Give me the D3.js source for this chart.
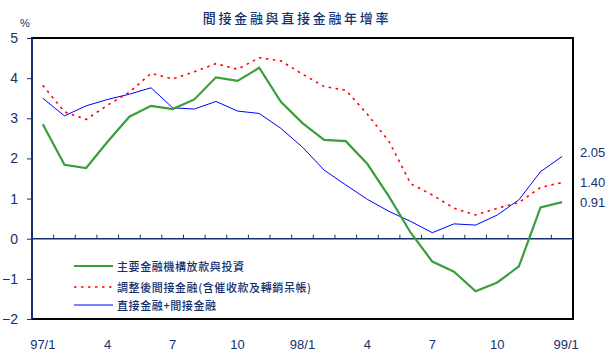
<!DOCTYPE html>
<html><head><meta charset="utf-8">
<script src="https://cdn.jsdelivr.net/npm/d3@7/dist/d3.min.js"></script>
<style>body{margin:0;background:#fff}svg{display:block}</style>
</head><body>
<svg id="c" width="614" height="356"></svg>
<script>
const title = "間接金融與直接金融年增率";
const months = ["97/1","97/2","97/3","97/4","97/5","97/6","97/7","97/8","97/9","97/10","97/11","97/12",
  "98/1","98/2","98/3","98/4","98/5","98/6","98/7","98/8","98/9","98/10","98/11","98/12","99/1"];
const tickLabels = ["97/1","4","7","10","98/1","4","7","10","99/1"];
const yTicks = [5,4,3,2,1,0,-1,-2];
const seriesNames = ["主要金融機構放款與投資","調整後間接金融(含催收款及轉銷呆帳)","直接金融+間接金融"];
const green = [2.85,1.84,1.76,2.42,3.04,3.31,3.23,3.47,4.02,3.93,4.26,3.41,2.88,2.46,2.43,1.86,1.05,0.15,-0.57,-0.82,-1.31,-1.09,-0.69,0.78,0.91];
const red   = [3.82,3.16,2.97,3.33,3.65,4.12,3.98,4.16,4.36,4.22,4.51,4.43,4.10,3.79,3.70,3.10,2.42,1.37,1.09,0.76,0.59,0.76,0.90,1.28,1.40];
const blue  = [3.50,3.06,3.31,3.47,3.60,3.76,3.26,3.23,3.42,3.18,3.12,2.75,2.28,1.71,1.34,0.98,0.68,0.43,0.15,0.37,0.34,0.59,0.97,1.67,2.05];
const endLabels = ["2.05","1.40","0.91"];

const navy = "#14306e";
const greenC = "#3a9e3a";
const svg = d3.select("#c");
const L = 32, R = 573, T = 38, B = 319;
const x = d3.scalePoint().domain(d3.range(months.length)).range([L, R]).padding(0.5);
const y = d3.scaleLinear().domain([-2, 5]).range([B, T]);
const step = x.step();

// title
svg.append("text").attr("x", 297).attr("y", 23).attr("text-anchor", "middle")
  .attr("font-family", "Noto Sans CJK TC").attr("font-size", 13).attr("font-weight", 500).attr("letter-spacing", 2.7)
  .attr("fill", navy).text(title);

// frame
svg.append("rect").attr("x", L).attr("y", T).attr("width", R - L).attr("height", B - T)
  .attr("fill", "none").attr("stroke", "#000").attr("stroke-width", 2);
svg.append("line").attr("x1", L).attr("x2", L).attr("y1", T).attr("y2", B)
  .attr("stroke", navy).attr("stroke-width", 2);

// y axis
const yAxis = d3.axisLeft(y).tickValues(yTicks).tickSize(5).tickFormat(d3.format("d"));
const ya = svg.append("g").attr("transform", `translate(${L},0)`).call(yAxis);
ya.select(".domain").remove();
ya.selectAll("line").attr("stroke", navy);
ya.selectAll("text").attr("x", -14).attr("font-family", "Liberation Sans").attr("font-size", 14).attr("fill", navy);
svg.append("text").attr("x", 20).attr("y", 27).attr("font-family", "Liberation Sans").attr("font-size", 11)
  .attr("fill", navy).text("%");

// zero line with ticks at band boundaries
svg.append("line").attr("x1", L).attr("x2", R).attr("y1", y(0)).attr("y2", y(0))
  .attr("stroke", navy).attr("stroke-width", 1.5);
svg.append("g").selectAll("line").data(d3.range(1, months.length)).join("line")
  .attr("x1", d => x(d) - step / 2).attr("x2", d => x(d) - step / 2)
  .attr("y1", y(0)).attr("y2", y(0) - 4).attr("stroke", navy).attr("stroke-width", 1);

// x labels
const xt = months.map((m, i) => i).filter(i => i % 3 === 0);
svg.append("g").selectAll("text").data(xt).join("text")
  .attr("x", (d, j) => x(d) + (j === xt.length - 1 ? 4 : 0)).attr("y", 349).attr("text-anchor", "middle")
  .attr("font-family", "Liberation Sans").attr("font-size", 13).attr("fill", navy)
  .text((d, j) => tickLabels[j]);

// lines
const line = d3.line().x((d, i) => x(i)).y(d => y(d));
svg.append("path").datum(blue).attr("d", line).attr("fill", "none").attr("stroke", "#0000ff").attr("stroke-width", 1);
svg.append("path").datum(red).attr("d", line).attr("fill", "none").attr("stroke", "#ff0000").attr("stroke-width", 1.6).attr("stroke-dasharray", "2.5,4.5");
svg.append("path").datum(green).attr("d", line).attr("fill", "none").attr("stroke", greenC).attr("stroke-width", 2.2);

// end labels
const endY = [157, 187, 207];
svg.append("g").selectAll("text").data(endLabels).join("text")
  .attr("x", 580).attr("y", (d, i) => endY[i]).attr("font-family", "Liberation Sans")
  .attr("font-size", 13).attr("fill", navy).text(d => d);

// legend
const lg = [{c: greenC, w: 2.2, dash: null, y: 266},
            {c: "#ff0000", w: 1.6, dash: "2.5,4.5", y: 287},
            {c: "#0000ff", w: 1.2, dash: null, y: 305}];
lg.forEach((s, i) => {
  svg.append("line").attr("x1", 74).attr("x2", 113).attr("y1", s.y).attr("y2", s.y)
    .attr("stroke", s.c).attr("stroke-width", s.w).attr("stroke-dasharray", s.dash);
  svg.append("text").attr("x", 117).attr("y", s.y + 4.5)
    .attr("font-family", "Noto Sans CJK TC").attr("font-size", 11).attr("font-weight", 500).attr("letter-spacing", 0.6)
    .attr("fill", navy).text(seriesNames[i]);
});
</script>
</body></html>
